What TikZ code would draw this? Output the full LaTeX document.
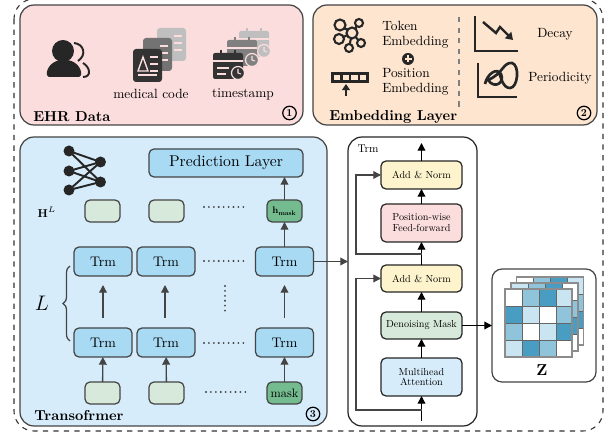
\documentclass[tikz,border=0pt]{standalone}
\usepackage{fix-cm}
\usepackage{amsmath}
\usepackage{amssymb}
\usepackage{fontspec}
\setmainfont[BoldFont=lmroman10-bold.otf]{lmroman10-regular.otf}
\usetikzlibrary{arrows.meta}
\usetikzlibrary{decorations.pathreplacing}

\definecolor{ehrpink}{HTML}{FBDDDD}
\definecolor{embpeach}{HTML}{FDE5D0}
\definecolor{trfblue}{HTML}{D6ECFA}
\definecolor{trmblue}{HTML}{A8DAF4}
\definecolor{hidgreen}{HTML}{D7E9DA}
\definecolor{maskgreen}{HTML}{74BC8F}
\definecolor{normyellow}{HTML}{FDF3CC}
\definecolor{inkgray}{HTML}{444444}
\definecolor{cellL}{HTML}{C9E5F2}
\definecolor{cellM}{HTML}{8FC4DB}
\definecolor{cellD}{HTML}{4A9DC2}

\tikzset{
  panel/.style={draw=inkgray, line width=0.7pt, rounded corners=0.28cm},
  trmbox/.style={draw=inkgray, line width=0.7pt, fill=trmblue, rounded corners=0.1cm, minimum width=1.16cm, minimum height=0.58cm, font=\fontsize{7.9}{10}\selectfont, inner sep=0pt, outer sep=0pt},
  hidbox/.style={draw=inkgray, line width=0.7pt, fill=hidgreen, rounded corners=0.1cm, minimum width=0.7cm, minimum height=0.44cm, inner sep=0pt, outer sep=0pt},
  maskbox/.style={hidbox, fill=maskgreen},
  layerbox/.style={draw=black!85, line width=0.7pt, rounded corners=0.1cm, minimum width=1.62cm, align=center, font=\fontsize{5.8}{6.2}\selectfont, inner sep=0pt, outer sep=0pt},
  title/.style={font=\fontsize{8.2}{10}\selectfont\bfseries, inner sep=0pt},
  small/.style={font=\fontsize{7.6}{9}\selectfont, inner sep=0pt},
  badge/.style={draw=black, line width=0.7pt, circle, minimum size=0.27cm, inner sep=0pt, font=\fontsize{6}{7}\selectfont\bfseries},
  grayarrow/.style={-{Triangle[length=4.4pt,width=4.4pt]}, draw=inkgray, line width=0.75pt},
  blackarrow/.style={-{Triangle[length=4.4pt,width=4.4pt]}, draw=black, line width=0.75pt},
  dotrow/.style={dash pattern=on 0pt off 2.8pt, line cap=round, line width=1.2pt, draw=inkgray},
}

% one document sheet: x, y, colour, background
\newcommand{\docicon}[4]{
  \fill[#3, rounded corners=0.06cm] (#1,#2) rectangle ++(29,33);
  \foreach \rowy in {8,15,22}
    \draw[#4, line width=0.8pt] (#1+17,#2+\rowy) -- ++(8,0);
}
% one calendar with its clock: x, y, colour, background
\newcommand{\calicon}[4]{
  \begin{scope}[shift={(#1,#2)}]
    \fill[#3, rounded corners=0.04cm] (0,3) rectangle (30,29);
    \draw[#4, line width=0.7pt] (0,11) -- (30,11);
    \draw[#3, line width=1.1pt] (8,0) -- (8,5) (22,0) -- (22,5);
    \draw[#4, line width=0.9pt] (4,18) -- (16,18) (4,24) -- (13,24);
    \fill[#3, draw=#4, line width=0.7pt] (25,23) circle (6.5);
    \draw[#4, line width=0.6pt] (25,19) -- (25,23) -- (28,24);
  \end{scope}
}

\begin{document}
\begin{tikzpicture}[x=0.02cm, y=-0.02cm]
  \useasboundingbox (0,0) rectangle (613,435);
  \clip (0,0) rectangle (613,435);

  % Outer frame
  \draw[dashed, line width=0.6pt, draw=black!80, rounded corners=0.4cm] (14,-1) rectangle (603,431);

  % Top panels
  \draw[panel, fill=ehrpink] (20,5) rectangle (303,125);
  \draw[panel, fill=embpeach] (313,5) rectangle (597,125);
  \node[title, anchor=west] (ehrTitle) at (33,117) {EHR Data};
  \node[badge] (badgeA) at (289.5,113) {1};
  \node[title, anchor=west] (embTitle) at (329,117) {Embedding Layer};
  \node[badge] (badgeB) at (584,113) {2};

  % Patient icon
  \fill[black!85] (63,51) circle (11);
  \fill[black!85, rounded corners=0.04cm] (47,77) .. controls (46,67) and (54,60) .. (64,60) .. controls (74,60) and (82,67) .. (81,77) -- cycle;
  \draw[black!85, line width=1.1pt] (74,43) .. controls (84,44) and (87,55) .. (78,61);
  \draw[black!85, line width=1.1pt] (83,63) .. controls (90,67) and (92,77) .. (83,77);

  % Medical code icon
  \docicon{157}{28}{black!25}{ehrpink}
  \docicon{143}{38}{black!55}{ehrpink}
  \docicon{133}{49}{black!80}{ehrpink}
  \draw[ehrpink, line width=0.8pt] (143,57) -- (138,71) -- (148,71) -- cycle;
  \draw[ehrpink, line width=0.9pt] (138,75) -- (157,75);
  \node[small] (codeLabel) at (151,94) {medical code};

  % Timestamp icon
  \calicon{239}{28}{black!25}{ehrpink}
  \calicon{227}{37}{black!50}{ehrpink}
  \calicon{213}{50}{black!80}{ehrpink}
  \node[small] (timeLabel) at (243,94) {timestamp};

  % Token icon
  \begin{scope}[black!85, line width=1.2pt]
    \draw (352,33) -- (340,25) (352,33) -- (359,23) (352,33) -- (339,39) (352,33) -- (361,43) (352,33) -- (349,48);
    \draw[fill=embpeach] (352,33) circle (5.5);
    \draw[fill=embpeach] (340,25) circle (5.5);
    \draw[fill=embpeach] (359,23) circle (4);
    \draw[fill=embpeach] (339,39) circle (5);
    \draw[fill=embpeach] (361,43) circle (4);
    \draw[fill=embpeach] (349,48) circle (4);
  \end{scope}
  \node[small, anchor=west] (tokenA) at (382,26) {Token};
  \node[small, anchor=west] (tokenB) at (382,42) {Embedding};
  \fill[black!85] (408,59) circle (6);
  \draw[embpeach, line width=1.1pt] (404.5,59) -- (411.5,59) (408,55.5) -- (408,62.5);

  % Position icon
  \draw[black!85, line width=1.3pt] (332.5,73.5) rectangle (367.5,81.5);
  \draw[black!85, line width=1.3pt] (341.5,73.5) -- (341.5,81.5) (350,73.5) -- (350,81.5) (359,73.5) -- (359,81.5);
  \draw[-{Triangle[length=3.5pt,width=4.5pt]}, black!85, line width=1.1pt] (346,96) -- (346,84);
  \node[small, anchor=west] (posA) at (382,73) {Position};
  \node[small, anchor=west] (posB) at (382,89) {Embedding};

  \draw[dashed, line width=0.7pt, draw=black!50] (459,17) -- (459,110);

  % Decay icon
  \draw[black!85, line width=1.4pt] (475,16) -- (475,51) -- (518,51);
  \draw[-{Triangle[length=4pt,width=5pt]}, black!85, line width=1.4pt] (483,22) -- (496,33) -- (500,27) -- (513,40);
  \node[small] (decayLabel) at (555,34) {Decay};

  % Periodicity icon
  \draw[black!85, line width=1.4pt] (478,63) -- (478,97) -- (517,97);
  \draw[black!85, line width=1.5pt] (485,84) .. controls (487,74) and (497,67) .. (501,74) .. controls (505,82) and (495,90) .. (488,80) .. controls (503,74) and (503,62) .. (512,63) .. controls (520,65) and (518,88) .. (510,88) .. controls (503,88) and (501,78) .. (499,72);
  \node[small] (periodLabel) at (560,78) {Periodicity};

  % Transformer panel
  \draw[panel, fill=trfblue] (20,137) rectangle (327,426);
  \node[title, anchor=west] (trfTitle) at (34,416) {Transofrmer};
  \node[badge] (badgeC) at (313,414) {3};

  % Network icon
  \foreach \lefty in {151,171,190}
    \foreach \righty in {162,182}
      \draw[black!85, line width=1.1pt] (69,\lefty) -- (100.5,\righty);
  \foreach \lefty in {151,171,190}
    \fill[black!85] (69,\lefty) circle (5.5);
  \foreach \righty in {162,182}
    \fill[black!85] (100.5,\righty) circle (5.5);

  \node[trmbox, minimum width=3.08cm, minimum height=0.56cm, font=\fontsize{8.9}{11}\selectfont] (predLayer) at (226,163) {Prediction Layer};
  \node[inner sep=0pt, font=\fontsize{6.5}{8}\selectfont] (hiddenLabel) at (47,212) {$\mathbf{H}^{L}$};

  \node[hidbox] (hidA) at (102.5,211) {};
  \node[hidbox] (hidB) at (166.5,211) {};
  \node[maskbox, font=\fontsize{5.4}{7}\selectfont] (hidMask) at (284.5,211) {$\mathbf{h}_{\mathbf{mask}}$};

  \node[trmbox] (trmTopA) at (103,261.5) {Trm};
  \node[trmbox] (trmTopB) at (166,261.5) {Trm};
  \node[trmbox] (trmTopC) at (284.5,261.5) {Trm};
  \node[trmbox] (trmBotA) at (103,342.5) {Trm};
  \node[trmbox] (trmBotB) at (166,342.5) {Trm};
  \node[trmbox] (trmBotC) at (284.5,342.5) {Trm};

  \node[hidbox] (inA) at (102.5,393) {};
  \node[hidbox] (inB) at (166.5,393) {};
  \node[maskbox, font=\fontsize{7}{8}\selectfont] (inMask) at (284.5,393) {mask};

  \draw[dotrow] (204,207) -- (248,207);
  \draw[dotrow] (204,261) -- (248,261);
  \draw[dotrow] (204,343) -- (248,343);
  \draw[dotrow] (206,392) -- (250,392);
  \draw[dotrow] (225,286) -- (225,315);

  \draw[grayarrow] (inA) -- (trmBotA);
  \draw[grayarrow] (inB) -- (trmBotB);
  \draw[grayarrow] (inMask) -- (trmBotC);
  \draw[grayarrow] (trmTopC) -- (hidMask);
  \draw[grayarrow] (hidMask) -- (predLayer.south -| hidMask);

  \coordinate (stackA) at (103,318);
  \coordinate (stackAend) at (103,285);
  \coordinate (stackB) at (165,318);
  \coordinate (stackBend) at (165,285);
  \coordinate (stackC) at (284.5,318);
  \coordinate (stackCend) at (284.5,285);
  \draw[grayarrow] (stackA) -- (stackAend);
  \draw[grayarrow] (stackB) -- (stackBend);
  \draw[grayarrow] (stackC) -- (stackCend);

  \draw[line width=0.7pt, draw=inkgray, decorate, decoration={brace, amplitude=0.14cm}] (70,341) -- (70,266);
  \node[inner sep=0pt, font=\fontsize{12}{14}\selectfont] (layersLabel) at (42,303) {$L$};

  % Trm detail
  \draw[panel, draw=black!85, fill=white] (348,137) rectangle (477,426);
  \node[inner sep=0pt, font=\fontsize{6.4}{8}\selectfont] (trmLabel) at (368,149) {Trm};

  \node[layerbox, fill=normyellow, minimum height=0.56cm] (normTop) at (421.5,175) {Add \& Norm};
  \node[layerbox, fill=ehrpink, minimum height=0.76cm] (feedForward) at (421.5,223) {Position-wise\\Feed-forward};
  \node[layerbox, fill=normyellow, minimum height=0.54cm] (normBot) at (421.5,278.5) {Add \& Norm};
  \node[layerbox, fill=hidgreen, minimum height=0.54cm] (denoise) at (421.5,325.5) {Denoising Mask};
  \node[layerbox, fill=trfblue, minimum height=0.76cm] (attention) at (421.5,377) {Multihead\\Attention};

  \coordinate (trmIn) at (421.5,421);
  \coordinate (trmOut) at (421.5,143);
  \coordinate (skipBot) at (421.5,410);
  \coordinate (skipBotL) at (356,410);
  \coordinate (skipTop) at (421.5,254);
  \coordinate (skipTopL) at (356,254);

  \draw[blackarrow] (trmIn) -- (attention);
  \draw[blackarrow] (attention) -- (denoise);
  \draw[blackarrow] (denoise) -- (normBot);
  \draw[blackarrow] (normBot) -- (feedForward);
  \draw[blackarrow] (feedForward) -- (normTop);
  \draw[blackarrow] (normTop) -- (trmOut);
  \draw[grayarrow] (skipBot) -- (skipBotL) |- (normBot);
  \draw[grayarrow] (skipTop) -- (skipTopL) |- (normTop);

  % Output matrices
  \draw[panel, rounded corners=0.2cm, fill=white] (492,269) rectangle (596,382);
  \node[inner sep=0pt, font=\fontsize{9}{10}\selectfont] (outLabel) at (542,370) {$\mathbf{Z}$};

  \foreach \ox/\oy/\colsA/\colsB/\colsC/\colsD in {
      11.5/-12/white/cellM/cellD/cellL,
      6/-6/cellL/cellM/cellD/white,
      0/0/white/cellM/cellD/cellL}{
    \begin{scope}[shift={(\ox,\oy)}]
      \fill[white] (505,289) rectangle (572,357);
      \fill[\colsA] (505,289) rectangle ++(17,17);
      \fill[\colsB] (522,289) rectangle ++(17,17);
      \fill[\colsC] (539,289) rectangle ++(17,17);
      \fill[\colsD] (556,289) rectangle ++(16,17);
      \fill[cellD] (505,306) rectangle ++(17,17);
      \fill[cellL] (522,306) rectangle ++(17,17);
      \fill[white] (539,306) rectangle ++(17,17);
      \fill[cellM] (556,306) rectangle ++(16,17);
      \fill[cellM] (505,323) rectangle ++(17,17);
      \fill[white] (522,323) rectangle ++(17,17);
      \fill[cellL] (539,323) rectangle ++(17,17);
      \fill[cellD] (556,323) rectangle ++(16,17);
      \fill[cellL] (505,340) rectangle ++(17,17);
      \fill[cellD] (522,340) rectangle ++(17,17);
      \fill[cellM] (539,340) rectangle ++(17,17);
      \fill[white] (556,340) rectangle ++(16,17);
      \draw[black!60, line width=0.4pt] (505,306) -- (572,306) (505,323) -- (572,323) (505,340) -- (572,340);
      \draw[black!60, line width=0.4pt] (522,289) -- (522,357) (539,289) -- (539,357) (556,289) -- (556,357);
      \draw[black!45, line width=0.7pt] (505,289) rectangle (572,357);
    \end{scope}
  }

  % Between panels
  \coordinate (trmDetailIn) at (348,261.5);
  \coordinate (matrixIn) at (492,325.5);
  \draw[grayarrow] (trmTopC) -- (trmDetailIn);
  \draw[blackarrow] (denoise) -- (matrixIn);
\end{tikzpicture}
\end{document}
